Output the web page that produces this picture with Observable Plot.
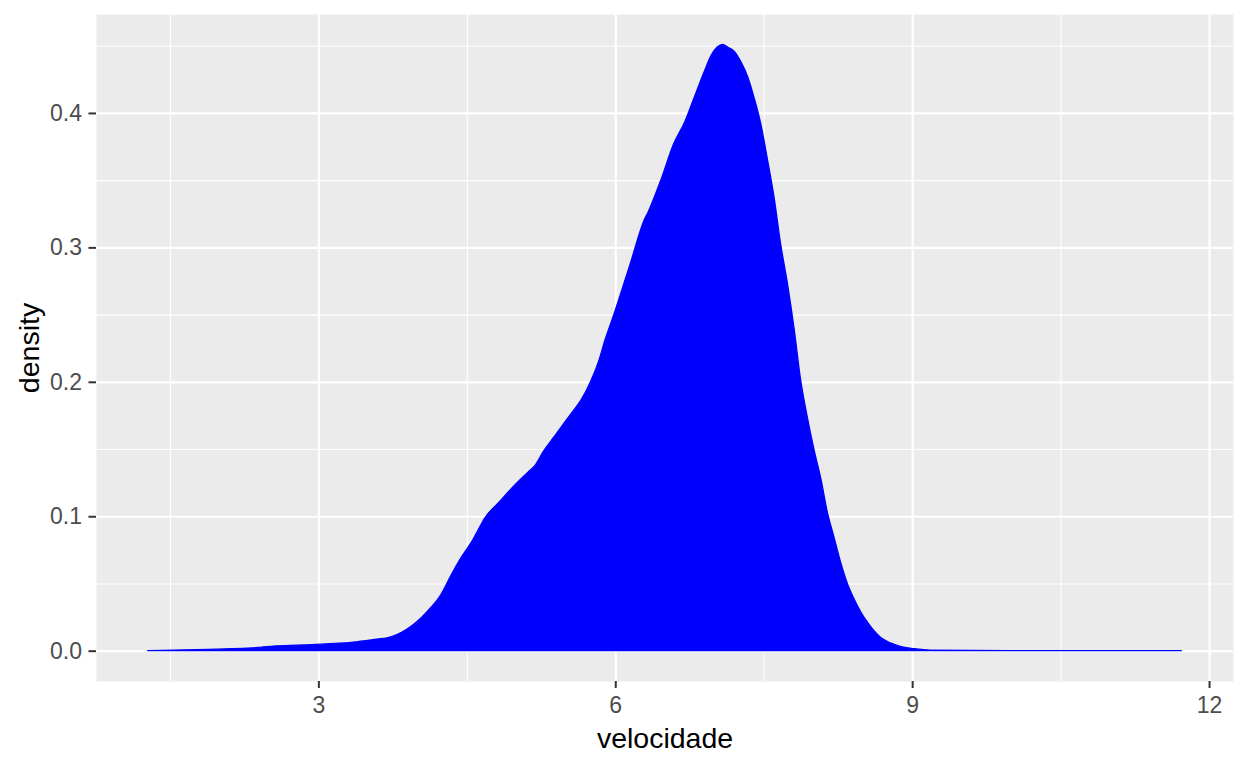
<!DOCTYPE html>
<html>
<head>
<meta charset="utf-8">
<script src="https://cdn.jsdelivr.net/npm/d3@7"></script>
<script src="https://cdn.jsdelivr.net/npm/@observablehq/plot@0.6"></script>
<style>
  html, body { margin: 0; padding: 0; background: #ffffff; }
  #chart svg { display: block; }
</style>
</head>
<body>
<div id="chart"></div>
<script>
// density estimate of "velocidade"
const velocidade = [1.275, 1.89, 2.05, 2.32, 2.43, 2.57, 2.93, 3.16, 3.33, 3.40, 3.59, 3.74, 3.84, 3.97, 4.11, 4.24, 4.34, 4.44, 4.54, 4.645, 4.675, 4.82, 4.98, 5.12, 5.18, 5.28, 5.38, 5.48, 5.58, 5.65, 5.755, 5.83, 5.90, 5.99, 6.16, 6.29, 6.33, 6.46, 6.59, 6.70, 6.80, 6.90, 6.97, 7.03, 7.085, 7.135, 7.20, 7.27, 7.34, 7.40, 7.47, 7.54, 7.605, 7.67, 7.74, 7.81, 7.87, 7.94, 8.01, 8.08, 8.14, 8.21, 8.28, 8.345, 8.41, 8.48, 8.55, 8.61, 8.68, 8.78, 8.88, 9.02, 9.185, 10.0, 11.0, 11.72];
const density = [0, 0.001, 0.0013, 0.002, 0.0027, 0.0035, 0.0045, 0.0054, 0.0062, 0.0068, 0.0085, 0.0105, 0.0137, 0.020, 0.030, 0.042, 0.056, 0.069, 0.080, 0.094, 0.098, 0.110, 0.123, 0.133, 0.137, 0.149, 0.159, 0.169, 0.179, 0.186, 0.201, 0.215, 0.232, 0.251, 0.290, 0.320, 0.326, 0.350, 0.377, 0.393, 0.412, 0.431, 0.443, 0.449, 0.451, 0.449, 0.446, 0.438, 0.4265, 0.412, 0.392, 0.3645, 0.337, 0.303, 0.273, 0.238, 0.203, 0.174, 0.149, 0.127, 0.104, 0.0845, 0.065, 0.050, 0.039, 0.029, 0.021, 0.0152, 0.0100, 0.0058, 0.0032, 0.0015, 0.0004, 0, 0, 0];

const xMajor = [3, 6, 9, 12];
const xMinor = [1.5, 4.5, 7.5, 10.5];
const yMajor = [0, 0.1, 0.2, 0.3, 0.4];
const yMinor = [0.05, 0.15, 0.25, 0.35, 0.45];
const xTitle = "velocidade";
const yTitle = "density";

const table = velocidade.map((v, i) => ({x: v, y: density[i]}));

const chart = Plot.plot({
  width: 1248,
  height: 768,
  marginLeft: 96,
  marginRight: 15,
  marginTop: 14,
  marginBottom: 87,
  style: {fontFamily: "'Liberation Sans', Arial, sans-serif", background: "#ffffff"},
  x: {domain: [0.753, 12.242]},
  y: {domain: [-0.02255, 0.4736]},
  marks: [
    Plot.frame({fill: "#EBEBEB", stroke: null}),
    Plot.ruleX(xMinor, {stroke: "#ffffff", strokeWidth: 1.1}),
    Plot.ruleY(yMinor, {stroke: "#ffffff", strokeWidth: 1.1}),
    Plot.ruleX(xMajor, {stroke: "#ffffff", strokeWidth: 2.2}),
    Plot.ruleY(yMajor, {stroke: "#ffffff", strokeWidth: 2.2}),
    Plot.areaY(table, {x: "x", y: "y", fill: "blue", stroke: "blue", strokeWidth: 1.3, curve: "monotone-x"}),
    Plot.axisX(xMajor, {tickSize: 7, tickPadding: 8, stroke: "#333333", strokeWidth: 2, fill: "#4D4D4D", fontSize: 23, label: null, tickFormat: d3.format("d")}),
    Plot.axisY(yMajor, {tickSize: 7.5, tickPadding: 7, stroke: "#333333", strokeWidth: 2, fill: "#4D4D4D", fontSize: 23, label: null, tickFormat: d3.format(".1f")}),
    Plot.text([xTitle], {text: d => d, frameAnchor: "bottom", textAnchor: "middle", lineAnchor: "middle", dy: 57, fontSize: 28.5, fill: "#000000"}),
    Plot.text([yTitle], {text: d => d, frameAnchor: "left", textAnchor: "middle", lineAnchor: "middle", dx: -67, rotate: -90, fontSize: 28.5, fill: "#000000"})
  ]
});
document.getElementById("chart").appendChild(chart);
</script>
</body>
</html>
